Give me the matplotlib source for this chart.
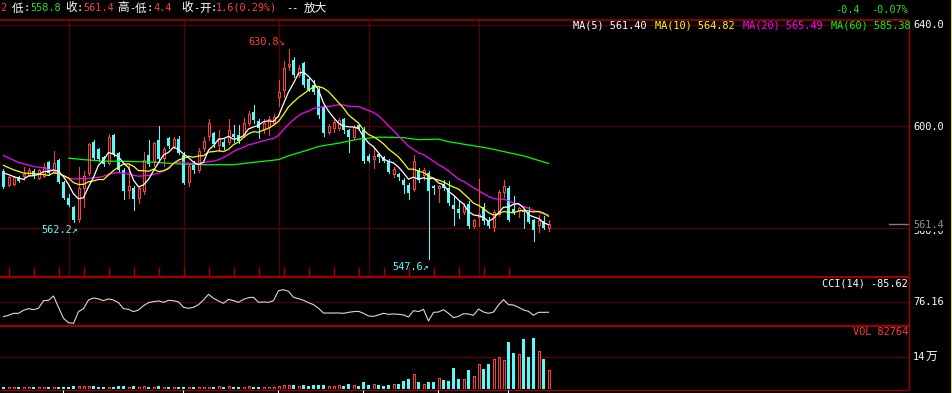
import matplotlib
matplotlib.use("Agg")
import matplotlib.pyplot as plt
from matplotlib.patches import Rectangle
import numpy as np
import pandas as pd

# ---------------- data ----------------
opens = [582.3, 576.7, 577.3, 580.0, 580.3, 581.0, 582.5, 579.7, 580.3, 585.9,
         582.0, 586.9, 578.0, 571.6, 568.3, 563.3, 575.7, 581.6, 593.7, 591.0,
         587.8, 585.6, 596.6, 589.5, 582.9, 574.8, 575.7, 571.6, 574.4, 588.8,
         586.2, 594.7, 587.5, 595.4, 592.1, 595.1, 588.8, 578.0, 585.6, 582.9,
         591.4, 596.3, 597.3, 592.5, 594.0, 593.8, 597.2, 596.6, 597.1, 601.5,
         605.8, 602.2, 598.9, 599.9, 601.5, 611.7, 614.3, 624.0, 626.1, 620.2,
         625.0, 618.9, 616.6, 614.3, 607.8, 598.0, 599.3, 599.3, 602.8, 598.6,
         595.8, 600.5, 598.6, 588.4, 587.1, 589.2, 587.9, 586.5, 581.3, 581.2,
         578.8, 576.8, 575.1, 582.7, 581.0, 581.6, 576.6, 575.7, 577.3, 575.7,
         568.8, 567.4, 566.3, 569.2, 560.7, 564.4, 568.1, 562.7, 560.4, 565.3,
         574.1, 575.5, 567.2, 566.6, 566.6, 566.0, 562.9, 561.1, 562.7, 559.8]
highs = [583.0, 580.3, 580.5, 580.3, 584.0, 583.5, 583.0, 583.0, 585.6, 586.5,
         590.4, 587.3, 578.5, 573.5, 568.5, 583.8, 582.5, 593.5, 594.7, 591.5,
         588.5, 596.9, 597.0, 590.0, 583.5, 585.6, 576.5, 576.5, 589.9, 594.5,
         594.0, 600.3, 592.0, 596.0, 595.8, 596.3, 590.0, 585.0, 586.5, 591.5,
         595.8, 602.8, 598.0, 598.6, 595.0, 602.9, 600.6, 600.5, 603.5, 606.0,
         608.5, 603.0, 603.0, 604.0, 605.0, 618.3, 625.8, 630.8, 627.4, 624.5,
         625.5, 619.6, 618.3, 615.6, 608.3, 601.0, 603.2, 603.2, 603.5, 599.0,
         600.5, 601.0, 599.9, 589.0, 592.0, 589.5, 588.5, 587.0, 584.0, 581.5,
         579.5, 577.5, 588.8, 583.5, 583.6, 582.5, 577.0, 577.0, 578.8, 578.6,
         572.5, 570.5, 569.6, 570.5, 563.3, 579.4, 569.6, 564.4, 567.0, 575.0,
         578.8, 576.6, 572.7, 568.3, 567.0, 568.2, 563.5, 564.9, 564.6, 563.2]
lows = [575.8, 576.4, 577.0, 578.0, 579.0, 580.5, 579.5, 579.3, 580.0, 581.0,
        581.5, 577.7, 571.2, 568.5, 562.2, 562.4, 568.3, 581.0, 587.0, 586.5,
        584.5, 585.0, 588.5, 582.0, 571.2, 571.8, 567.0, 569.9, 573.5, 584.5,
        584.2, 586.0, 584.2, 591.5, 591.5, 589.0, 577.3, 576.4, 581.5, 582.0,
        590.5, 594.7, 592.0, 590.5, 591.0, 593.0, 594.0, 593.5, 596.0, 600.5,
        601.5, 595.4, 597.5, 596.6, 601.0, 608.0, 611.7, 622.5, 619.5, 619.5,
        615.5, 614.0, 613.0, 603.2, 596.3, 597.0, 598.0, 598.5, 597.5, 590.1,
        595.0, 598.5, 585.5, 586.0, 583.6, 586.0, 586.0, 581.5, 580.0, 579.0,
        573.8, 571.2, 574.5, 578.0, 579.0, 547.6, 573.5, 570.3, 575.0, 569.0,
        561.0, 564.0, 565.5, 560.0, 560.0, 560.7, 561.4, 560.0, 558.8, 564.6,
        572.0, 562.5, 565.5, 564.4, 560.0, 562.0, 554.8, 558.3, 559.3, 558.8]
closes = [576.0, 579.9, 580.0, 578.4, 581.2, 582.8, 580.3, 582.7, 583.8, 581.6,
          585.6, 578.0, 571.6, 568.8, 562.9, 575.7, 580.3, 593.0, 587.5, 587.2,
          585.2, 596.0, 589.1, 582.9, 574.4, 576.4, 571.2, 575.7, 586.9, 585.2,
          593.4, 587.1, 591.2, 592.1, 595.1, 589.5, 577.7, 584.2, 582.9, 590.4,
          594.3, 601.5, 593.0, 595.5, 591.8, 598.6, 596.0, 594.4, 601.2, 604.9,
          602.6, 599.3, 601.5, 602.8, 603.6, 613.7, 623.2, 624.8, 620.2, 623.2,
          616.3, 614.6, 613.7, 604.5, 597.3, 600.3, 601.9, 602.6, 598.6, 596.0,
          599.9, 599.0, 586.2, 586.5, 588.4, 587.9, 586.5, 582.0, 583.2, 580.0,
          576.8, 573.8, 586.2, 579.0, 582.8, 574.4, 575.7, 576.4, 575.6, 569.6,
          567.2, 565.9, 568.5, 560.7, 562.9, 565.6, 562.7, 560.7, 566.3, 574.1,
          576.6, 563.1, 566.2, 567.7, 566.0, 562.4, 559.1, 563.0, 559.8, 561.4]
volumes = [7400, 7400, 7400, 7400, 7400, 7400, 7400, 7400, 7400, 7400,
           7400, 7400, 7400, 7400, 13200, 13200, 13200, 13200, 13200, 7400,
           7400, 7400, 7400, 13200, 13200, 7400, 13200, 7400, 13200, 7400,
           7400, 13200, 7400, 7400, 7400, 7400, 7400, 7400, 7400, 7400,
           7400, 7400, 7400, 13200, 7400, 13200, 7400, 7400, 7400, 13200,
           7400, 7400, 7400, 7400, 7400, 13200, 16200, 16200, 17700, 13200,
           17700, 14700, 17700, 17700, 17700, 13200, 14700, 17700, 14700, 22100,
           17700, 14700, 30900, 17700, 22100, 16200, 13200, 17700, 22100, 22100,
           35300, 44200, 66200, 30900, 22100, 30900, 30900, 47100, 39700, 35300,
           92700, 44200, 44200, 83900, 57400, 110400, 88300, 110400, 132500, 139800,
           128100, 207600, 159000, 154600, 220800, 141300, 225200, 167800, 132500, 82764]
cci = [-153, -132, -102, -102, -56, -30, -46, -25, 92, 97,
       163, -10, -178, -245, -255, -76, -30, 102, 133, 118,
       92, 118, 102, 61, -30, -41, -76, -51, 15, 61,
       77, 87, 66, 97, 92, 72, -10, -25, -10, 31,
       102, 189, 128, 87, 51, 112, 92, 66, 112, 138,
       143, 66, 72, 66, 92, 245, 260, 235, 143, 123,
       97, 61, 31, -25, -97, -97, -97, -97, -102, -87,
       -76, -71, -102, -143, -148, -127, -102, -117, -112, -117,
       -127, -158, -61, -76, -41, -219, -87, -82, -46, -102,
       -168, -148, -107, -112, -132, -36, -82, -102, -82, 26,
       107, 31, 26, -10, -51, -71, -132, -87, -87, -85.62]

# moving-average heads (before enough bars are visible)
ma5_head_idx, ma5_head = [0, 1, 2, 3], [581.6, 581.0, 580.2, 579.6]
ma10_head_idx, ma10_head = [0, 2, 4, 6, 8], [584.6, 582.9, 581.6, 581.4, 581.0]
ma20_head_idx = [0, 3, 6, 8, 10, 12, 13, 14, 16, 18]
ma20_head = [588.5, 585.8, 584.2, 583.6, 582.5, 580.3, 579.5, 579.3, 579.4, 579.7]
ma60_idx = [13, 16, 20, 25, 30, 35, 40, 46, 49, 55, 57, 61, 63, 67, 71, 75,
            80, 83, 87, 89, 93, 97, 100, 104, 107, 109]
ma60_val = [587.5, 586.9, 586.3, 586.2, 585.9, 585.2, 584.9, 584.9, 585.6, 586.9,
            588.4, 590.8, 592.1, 593.4, 595.0, 595.8, 595.6, 594.8, 595.0, 594.0,
            592.7, 591.4, 590.1, 588.4, 586.6, 585.38]

month_idx = [13, 36, 55, 73, 95]
date_tick_idx = [12.1, 36, 55, 72, 87, 101]

# ---------------- style ----------------
W, H = 953, 393
BG = "black"
RED = "#FF3C3C"
CYAN = "#54FCFC"
BORDER = "#A00000"
GRID = "#5A0000"
GREEN = "#22E022"
MONO = ["DejaVu Sans Mono", "Noto Sans CJK SC"]
CJK = ["Noto Sans CJK SC", "DejaVu Sans"]

fig = plt.figure(figsize=(W / 100, H / 100), dpi=100, facecolor=BG)


def fr(x0, y0, x1, y1):
    return [x0 / W, 1 - y1 / H, (x1 - x0) / W, (y1 - y0) / H]


def ptxt(x, y, s, color, size=7.4, ha="left", va="center", family=MONO, **kw):
    fig.text(x / W, 1 - y / H, s, color=color, fontsize=size, ha=ha, va=va,
             family=family, **kw)


XL = (-0.7, 181.1)
ax = fig.add_axes(fr(0, 20, 909, 277))
axc = fig.add_axes(fr(0, 277, 909, 326))
axv = fig.add_axes(fr(0, 326, 909, 389))
for a in (ax, axc, axv):
    a.set_facecolor(BG)
    a.set_xlim(*XL)
    a.set_xticks([])
    a.set_yticks([])
    for s in a.spines.values():
        s.set_visible(False)

ax.set_ylim(540.5, 642.1)
axc.set_ylim(-296, 454)
axv.set_ylim(0, 278000)

n = len(closes)
xs = np.arange(n)
o = np.array(opens); c = np.array(closes); h = np.array(highs); l = np.array(lows)
up = c >= o

# grid lines
for p in (640, 600, 560):
    ax.axhline(p, color=GRID, lw=0.9, zorder=0)
for m in month_idx:
    ax.axvline(m, color=GRID, lw=0.9, zorder=0)
axc.axhline(76.16, color=GRID, lw=0.9, zorder=0)
axv.axhline(140000, color=GRID, lw=0.9, zorder=0)

# bottom tick marks of main panel
for t in range(1, 106, 5):
    ax.plot([t, t], [540.5, 544.5], color=BORDER, lw=1.0, zorder=1,
            solid_capstyle="butt")

# candles: filled cyan bodies 3 px, hollow red bodies 3 px outer
LW = 0.72
for i in range(n):
    if up[i]:
        ax.plot([i, i], [c[i], h[i]], color=RED, lw=LW, zorder=3, antialiased=False)
        ax.plot([i, i], [l[i], o[i]], color=RED, lw=LW, zorder=3, antialiased=False)
        hgt = max(c[i] - o[i], 0.25)
        ax.add_patch(Rectangle((i - 0.2, o[i]), 0.4, hgt, facecolor=BG,
                               edgecolor=RED, lw=LW, zorder=3, antialiased=False))
    else:
        ax.plot([i, i], [l[i], h[i]], color=CYAN, lw=LW, zorder=3, antialiased=False)
        hgt = max(o[i] - c[i], 0.3)
        ax.add_patch(Rectangle((i - 0.3, c[i]), 0.6, hgt, facecolor=CYAN,
                               edgecolor="none", lw=0, zorder=3, antialiased=False))

# moving averages
cs = pd.Series(closes)
ma5 = cs.rolling(5).mean()
ma10 = cs.rolling(10).mean()
ma20 = cs.rolling(20).mean()
ax.plot(ma60_idx, ma60_val, color="#00FF00", lw=0.9, zorder=4)
ax.plot(ma20_head_idx + list(range(19, n)), ma20_head + list(ma20[19:]),
        color="#FF00FF", lw=0.9, zorder=4)
ax.plot(ma10_head_idx + list(range(9, n)), ma10_head + list(ma10[9:]),
        color="#FFFF00", lw=0.9, zorder=5)
ax.plot(ma5_head_idx + list(range(4, n)), ma5_head + list(ma5[4:]),
        color="white", lw=0.9, zorder=6)

# current price marker
ax.plot([177.1, 181.1], [closes[-1], closes[-1]], color="#808080", lw=1.0,
        zorder=2)

# extreme annotations
ax.text(57 - 0.6, max(highs) + 0.6, "630.8\u2198", color=RED, fontsize=7.4,
        ha="right", va="bottom", family=["DejaVu Sans Mono", "DejaVu Sans"],
        zorder=7)
ax.text(14.9, min(lows[:40]) - 1.0, "562.2\u2197", color=CYAN, fontsize=7.4,
        ha="right", va="top", family=["DejaVu Sans Mono", "DejaVu Sans"], zorder=7)
ax.text(85.1, min(lows) - 1.0, "547.6\u2197", color=CYAN, fontsize=7.4,
        ha="right", va="top", family=["DejaVu Sans Mono", "DejaVu Sans"], zorder=7)

# CCI
axc.plot(xs, cci, color="#D8D8D8", lw=0.8, zorder=3)

# volume
for i in range(n):
    if up[i]:
        axv.add_patch(Rectangle((i - 0.2, 0), 0.4, volumes[i], facecolor=BG,
                                edgecolor=RED, lw=LW, zorder=3, antialiased=False))
    else:
        axv.add_patch(Rectangle((i - 0.3, 0), 0.6, volumes[i], facecolor=CYAN,
                                edgecolor="none", lw=0, zorder=3, antialiased=False))

# panel borders
def hline(y, x0, x1, lw, color=BORDER):
    fig.add_artist(plt.Line2D([x0 / W, x1 / W], [1 - y / H, 1 - y / H],
                              color=color, lw=lw, solid_capstyle="butt"))


def vline(x, y0, y1, lw, color=BORDER):
    fig.add_artist(plt.Line2D([x / W, x / W], [1 - y0 / H, 1 - y1 / H],
                              color=color, lw=lw, solid_capstyle="butt"))


hline(20, 0, 909, 1.2)
hline(277, 0, 909, 1.6)
hline(326, 0, 909, 1.6)
hline(389.5, 0, 909, 1.0)
vline(909, 20, 390, 1.0)
vline(952.3, 0, 393, 1.4, color="#E8E800")
# date ticks at very bottom
for t in date_tick_idx:
    xp = 3 + 5 * t
    vline(xp, 390, 393, 0.8, color="white")

# ---------------- texts ----------------
# header
ptxt(0, 8, "2", RED)
ptxt(12, 8, "低", "white", size=8.4, family=CJK)
ptxt(23.5, 8, ":", "white")
ptxt(30, 8, "558.8", GREEN)
ptxt(65, 8, "收", "white", size=8.4, family=CJK)
ptxt(76.5, 8, ":", "white")
ptxt(83, 8, "561.4", RED)
ptxt(117, 8, "高", "white", size=8.4, family=CJK)
ptxt(129, 8, "-", "white")
ptxt(135, 8, "低", "white", size=8.4, family=CJK)
ptxt(146.5, 8, ":", "white")
ptxt(153, 8, "4.4", RED)
ptxt(181, 8, "收", "white", size=8.4, family=CJK)
ptxt(193, 8, "-", "white")
ptxt(199, 8, "开", "white", size=8.4, family=CJK)
ptxt(210.5, 8, ":", "white")
ptxt(216, 8, "1.6(0.29%)", RED)
ptxt(286, 8, "--", "white")
ptxt(304, 8, "放大", "white", size=8.4, family=CJK)

# top right change
ptxt(860, 10, "-0.4", GREEN, ha="right")
ptxt(908, 10, "-0.07%", GREEN, ha="right")

# MA legend
ptxt(573, 26, "MA(5) 561.40", "white")
ptxt(655, 26, "MA(10) 564.82", "#FFFF00")
ptxt(743, 26, "MA(20) 565.49", "#FF00FF")
ptxt(831, 26, "MA(60) 585.38", "#00FF00")

# right axis labels (560.0 partly hidden behind the current-price label)
ptxt(913, 231.0, "560.0", "white")
ptxt(913, 224.8, "561.4", "#909090",
     bbox=dict(facecolor=BG, edgecolor="none", pad=0.6))
ptxt(913, 25.5, "640.0", "white")
ptxt(913, 126.5, "600.0", "white")

ptxt(908, 283.5, "CCI(14) -85.62", "white", ha="right")
ptxt(913, 301.7, "76.16", "white")
ptxt(908, 331.7, "VOL 82764", RED, ha="right")
ptxt(913, 357.3, "14", "white")
ptxt(926, 357.3, "万", "white", size=8.4, family=CJK)

fig.savefig("out.png", dpi=100, facecolor=BG)
